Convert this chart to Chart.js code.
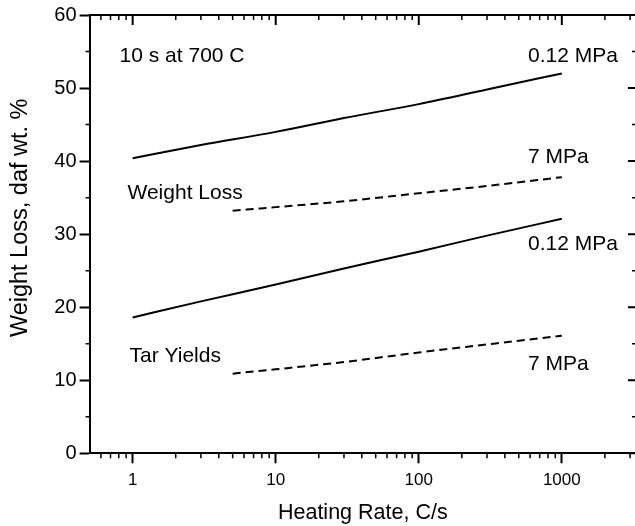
<!DOCTYPE html>
<html><head><meta charset="utf-8">
<script src="https://cdn.jsdelivr.net/npm/chart.js@4.4.1/dist/chart.umd.min.js"></script>
<style>html,body{margin:0;padding:0;background:#fff;overflow:hidden}#wrap{width:635px;height:526px;overflow:hidden}</style>
</head><body><div id="wrap"><canvas id="c" width="640" height="526"></canvas></div>
<script>
// ---- data ----
const ratesLow = [1, 3, 10, 30, 100, 300, 1000];          // heating rate, C/s (0.12 MPa)
const weightLossLow = [40.4, 42.2, 44.0, 45.9, 47.8, 49.8, 52.0];
const tarLow = [18.6, 20.8, 23.1, 25.3, 27.6, 29.8, 32.1];
const ratesHigh = [5, 10, 30, 100, 300, 1000];            // heating rate, C/s (7 MPa)
const weightLossHigh = [33.2, 33.7, 34.5, 35.6, 36.6, 37.8];
const tarHigh = [10.9, 11.5, 12.5, 13.8, 14.9, 16.1];

const xMajorTicks = [1, 10, 100, 1000];
const xMinorTicks = [0.6,0.7,0.8,0.9,2,3,4,5,6,7,8,9,20,30,40,50,60,70,80,90,200,300,400,500,600,700,800,900,2000,3000];
const yMajorTicks = [0, 10, 20, 30, 40, 50, 60];
const yMinorTicks = [5, 15, 25, 35, 45, 55];

const noteTexts = ['10 s at 700 C', '0.12 MPa', '7 MPa', '0.12 MPa', '7 MPa', 'Weight Loss', 'Tar Yields'];
const noteX = [0.81, 580, 580, 580, 580, 0.92, 0.95];
const noteY = [53.6, 53.55, 39.8, 27.8, 11.4, 34.8, 12.5];

const FAM = '"Liberation Sans", Arial, Helvetica, sans-serif';

const framePlugin = {
  id: 'frame',
  afterDraw(chart) {
    const {ctx, chartArea: a, scales: {x, y}} = chart;
    ctx.save();
    ctx.strokeStyle = '#000';
    ctx.lineWidth = 2;
    ctx.beginPath();
    ctx.moveTo(a.left, a.top); ctx.lineTo(a.right, a.top);
    ctx.lineTo(a.right, a.bottom);
    ctx.stroke();
    ctx.beginPath();
    xMajorTicks.forEach(v => { const p = x.getPixelForValue(v); ctx.moveTo(p, a.top); ctx.lineTo(p, a.top + 10); });
    yMajorTicks.forEach(v => { const p = y.getPixelForValue(v); ctx.moveTo(a.right, p); ctx.lineTo(a.right - 8, p); });
    ctx.stroke();
    ctx.lineWidth = 1.5;
    ctx.beginPath();
    xMinorTicks.forEach(v => {
      const p = x.getPixelForValue(v);
      ctx.moveTo(p, a.top); ctx.lineTo(p, a.top + 5);
      ctx.moveTo(p, a.bottom); ctx.lineTo(p, a.bottom + 5);
    });
    yMinorTicks.forEach(v => {
      const p = y.getPixelForValue(v);
      ctx.moveTo(a.right, p); ctx.lineTo(a.right - 4, p);
      ctx.moveTo(a.left, p); ctx.lineTo(a.left - 4, p);
    });
    ctx.stroke();
    ctx.fillStyle = '#000';
    ctx.font = '21px ' + FAM;
    ctx.textAlign = 'left';
    ctx.textBaseline = 'alphabetic';
    noteTexts.forEach((t, i) => ctx.fillText(t, x.getPixelForValue(noteX[i]), y.getPixelForValue(noteY[i])));
    ctx.restore();
  }
};

const pts = (xs, ys) => xs.map((v, i) => ({x: v, y: ys[i]}));
const base = {borderColor: '#000', borderWidth: 2, pointRadius: 0, fill: false, cubicInterpolationMode: 'monotone'};

new Chart(document.getElementById('c'), {
  type: 'line',
  data: {
    datasets: [
      Object.assign({label: 'Weight Loss 0.12 MPa', data: pts(ratesLow, weightLossLow)}, base),
      Object.assign({label: 'Weight Loss 7 MPa', data: pts(ratesHigh, weightLossHigh), borderDash: [8, 5]}, base),
      Object.assign({label: 'Tar Yields 0.12 MPa', data: pts(ratesLow, tarLow)}, base),
      Object.assign({label: 'Tar Yields 7 MPa', data: pts(ratesHigh, tarHigh), borderDash: [8, 5]}, base)
    ]
  },
  options: {
    responsive: false,
    animation: false,
    devicePixelRatio: 1,
    layout: {padding: {top: 14, right: 4, left: 0, bottom: 0}},
    plugins: {legend: {display: false}, tooltip: {enabled: false}},
    scales: {
      x: {
        type: 'logarithmic', min: 0.5, max: 3300,
        afterFit(s) { s.height = 72.7; },
        afterBuildTicks(s) { s.ticks = xMajorTicks.map(v => ({value: v})); },
        ticks: {callback: v => String(v), font: {size: 17, family: FAM}, color: '#000', padding: 7, maxRotation: 0, autoSkip: false},
        grid: {drawOnChartArea: false, drawTicks: true, tickLength: 10, tickWidth: 2, tickColor: '#000'},
        border: {display: true, color: '#000', width: 2},
        title: {display: true, text: 'Heating Rate, C/s', font: {size: 21.5, family: FAM}, color: '#000', padding: {top: 0, bottom: 0}}
      },
      y: {
        min: 0, max: 60,
        afterFit(s) { s.width = 89.6; },
        afterBuildTicks(s) { s.ticks = yMajorTicks.map(v => ({value: v})); },
        ticks: {font: {size: 20, family: FAM}, color: '#000', padding: 3},
        grid: {drawOnChartArea: false, drawTicks: true, tickLength: 10, tickWidth: 2, tickColor: '#000'},
        border: {display: true, color: '#000', width: 2},
        title: {display: true, text: '\u00a0\u00a0\u00a0\u00a0\u00a0Weight Loss, daf wt. %', font: {size: 23.5, family: FAM}, color: '#000', padding: {top: 6.5, bottom: 0}}
      }
    }
  },
  plugins: [framePlugin]
});
</script>
</body></html>
